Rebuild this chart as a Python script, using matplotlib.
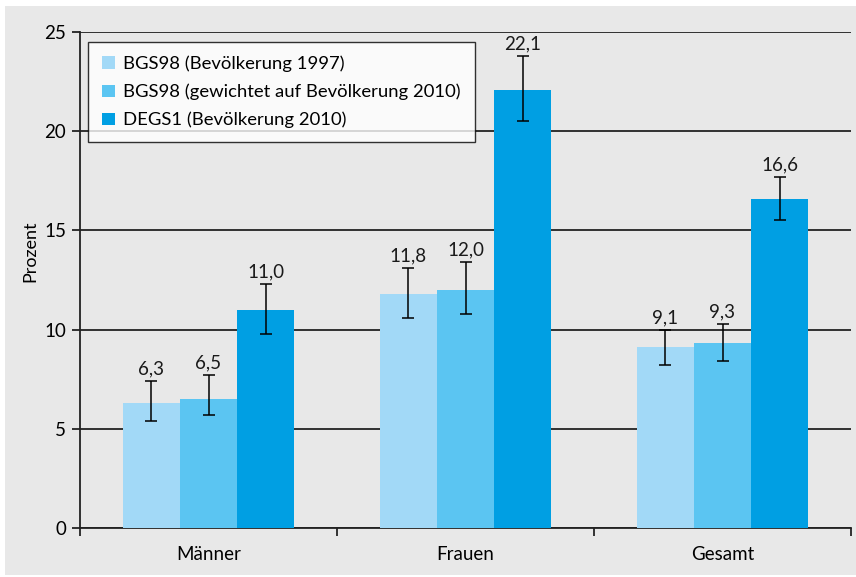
import matplotlib
matplotlib.use("Agg")
import matplotlib.pyplot as plt
from matplotlib.patches import Rectangle
import numpy as np

categories = ["Männer", "Frauen", "Gesamt"]
series_names = ["BGS98 (Bevölkerung 1997)",
                "BGS98 (gewichtet auf Bevölkerung 2010)",
                "DEGS1 (Bevölkerung 2010)"]
values_bgs97 = [6.3, 11.8, 9.1]
values_bgs10 = [6.5, 12.0, 9.3]
values_degs = [11.0, 22.1, 16.6]
low_bgs97 = [5.4, 10.6, 8.2]
high_bgs97 = [7.4, 13.1, 10.0]
low_bgs10 = [5.7, 10.8, 8.4]
high_bgs10 = [7.7, 13.4, 10.3]
low_degs = [9.8, 20.5, 15.5]
high_degs = [12.3, 23.8, 17.7]
labels_bgs97 = ["6,3", "11,8", "9,1"]
labels_bgs10 = ["6,5", "12,0", "9,3"]
labels_degs = ["11,0", "22,1", "16,6"]
yticks = [0, 5, 10, 15, 20, 25]

colors = ["#a2d9f7", "#5bc5f2", "#009fe3"]

plt.rcParams['font.family'] = ['Lato', 'DejaVu Sans']

fig = plt.figure(figsize=(8.56, 5.77), dpi=100)
fig.patch.set_facecolor("white")
fig.patches.append(Rectangle((5/856, 2/577), 1 - 5/856, (575-6)/577,
                             transform=fig.transFigure, facecolor="#e8e8e8",
                             edgecolor="none", zorder=-10))

ax = fig.add_axes([80/856, (577-528)/577, (851-80)/856, (528-32)/577])
ax.set_zorder(1)
ax.set_facecolor("none")

x = np.arange(len(categories))
w = 0.222
series = [(values_bgs97, low_bgs97, high_bgs97, labels_bgs97),
          (values_bgs10, low_bgs10, high_bgs10, labels_bgs10),
          (values_degs, low_degs, high_degs, labels_degs)]
for i, (vals, lo, hi, labs) in enumerate(series):
    pos = x + (i - 1) * w
    ax.bar(pos, vals, width=w, color=colors[i], label=series_names[i], zorder=3)
    vals_a = np.array(vals)
    yerr = [vals_a - np.array(lo), np.array(hi) - vals_a]
    ax.errorbar(pos, vals, yerr=yerr, fmt="none", ecolor="black",
                elinewidth=1.1, capsize=4, capthick=1.1, zorder=4)
    for p, h, t in zip(pos, hi, labs):
        ax.annotate(t, (p, h), xytext=(0, 2.5), textcoords="offset points",
                    ha="center", va="bottom", fontsize=13.5, color="#1a1a1a")

ax.set_xlim(-0.5, 2.5)
ax.set_ylim(0, 25)
ax.set_yticks(yticks)
ax.set_yticklabels([str(t) for t in yticks])
ax.yaxis.grid(True, color="#222222", linewidth=1.3, zorder=1)
ax.set_axisbelow(True)

ax.set_xticks(x)
ax.set_xticklabels(categories)
ax.set_xticks([-0.5, 0.5, 1.5, 2.5], minor=True)
ax.tick_params(axis="x", which="major", length=0, labelsize=13.5, pad=13)
ax.tick_params(axis="x", which="minor", length=6, width=1.1, direction="out")
ax.tick_params(axis="y", length=6, width=1.1, labelsize=13.5, pad=4)

for s in ["top", "right"]:
    ax.spines[s].set_visible(False)
for s in ["left", "bottom"]:
    ax.spines[s].set_linewidth(1.3)
    ax.spines[s].set_color("#222222")

ax.set_ylabel("Prozent", fontsize=13)
ax.yaxis.set_label_coords(-0.065, 0.558)
ax.yaxis.label.set_va("center")

leg = ax.legend(loc="upper left", bbox_to_anchor=(8/771, 1 - 10/496),
                frameon=True, fancybox=False, fontsize=13.3,
                handlelength=0.7, handleheight=0.7, handletextpad=0.45,
                labelspacing=0.62, borderpad=0.75, borderaxespad=0)
leg.get_frame().set_edgecolor("black")
leg.get_frame().set_linewidth(1.0)
leg.get_frame().set_facecolor("white")
leg.set_zorder(5)

fig.savefig("out.png", dpi=100, facecolor=fig.get_facecolor())
